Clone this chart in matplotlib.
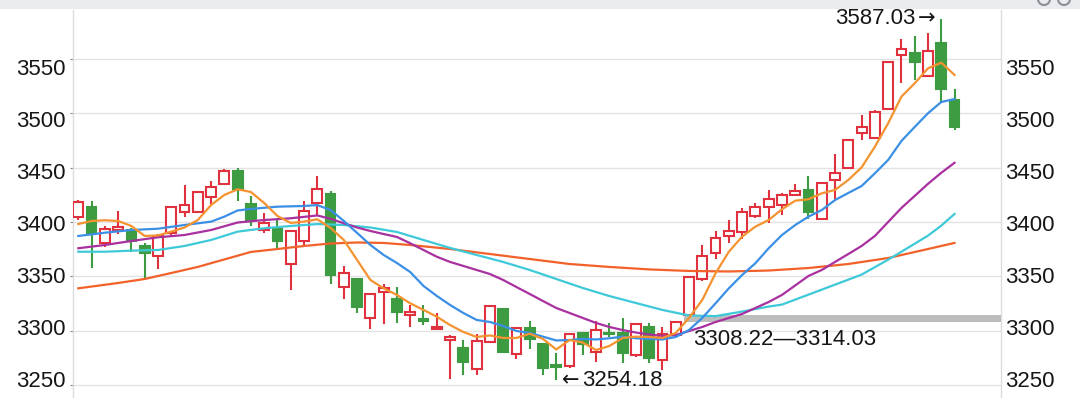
import matplotlib
matplotlib.use('Agg')
import matplotlib.pyplot as plt
import matplotlib.transforms as mtransforms
from matplotlib.patches import Rectangle, Circle

plt.rcParams['font.family'] = ['Liberation Sans', 'DejaVu Sans']

# daily candles (index 0..66)
opens = [3404.4, 3414.2, 3380.5, 3392.7, 3392.7, 3378.0, 3368.8, 3390.2, 3409.0, 3409.0,
         3422.8, 3435.0, 3447.3, 3416.7, 3392.7, 3393.4, 3361.4, 3382.6, 3417.3, 3425.6,
         3340.5, 3347.6, 3311.4, 3335.9, 3328.9, 3314.5, 3310.5, 3301.3, 3291.4, 3283.8,
         3264.4, 3289.9, 3320.0, 3278.3, 3302.8, 3287.8, 3268.0, 3267.5, 3297.6, 3280.7,
         3298.0, 3297.6, 3277.6, 3303.2, 3273.0, 3296.0, 3314.03, 3347.9, 3371.3, 3387.2,
         3391.2, 3405.9, 3414.2, 3415.7, 3425.0, 3429.6, 3402.9, 3438.7, 3449.5, 3481.7,
         3477.1, 3503.8, 3553.9, 3556.0, 3534.5, 3564.5, 3512.4]
closes = [3418.8, 3389.7, 3393.6, 3395.8, 3382.9, 3371.3, 3387.2, 3413.5, 3415.7, 3427.4,
          3432.6, 3447.3, 3430.1, 3401.9, 3398.8, 3382.9, 3391.8, 3410.2, 3430.1, 3351.3,
          3353.4, 3322.1, 3333.8, 3339.0, 3316.9, 3317.5, 3309.3, 3303.7, 3294.5, 3271.5,
          3290.5, 3322.7, 3280.7, 3302.8, 3292.1, 3265.4, 3266.8, 3296.7, 3287.8, 3300.6,
          3297.0, 3279.8, 3306.2, 3274.6, 3296.7, 3307.7, 3349.2, 3368.8, 3385.6, 3392.0,
          3409.6, 3413.5, 3421.3, 3425.0, 3428.6, 3409.6, 3436.3, 3444.8, 3475.6, 3487.8,
          3501.7, 3547.1, 3559.4, 3547.7, 3557.8, 3522.2, 3487.8]
highs = [3420.0, 3419.4, 3396.7, 3410.2, 3394.3, 3380.5, 3389.0, 3414.8, 3434.2, 3429.0,
         3438.0, 3448.5, 3449.5, 3424.0, 3408.6, 3401.9, 3392.5, 3419.4, 3442.4, 3429.0,
         3359.8, 3348.2, 3334.3, 3343.0, 3340.5, 3323.7, 3323.7, 3316.0, 3296.0, 3291.4,
         3297.0, 3323.2, 3320.5, 3303.3, 3308.9, 3288.3, 3279.7, 3297.2, 3299.0, 3308.9,
         3306.8, 3311.4, 3307.4, 3306.8, 3303.7, 3308.22, 3349.7, 3378.9, 3392.0, 3401.9,
         3412.7, 3417.3, 3429.6, 3426.5, 3434.8, 3442.4, 3437.0, 3462.9, 3476.0, 3498.6,
         3503.2, 3547.5, 3568.2, 3571.4, 3574.4, 3587.03, 3522.2]
lows = [3402.0, 3357.4, 3376.8, 3389.0, 3372.7, 3348.2, 3356.5, 3388.0, 3405.0, 3408.0,
        3417.0, 3434.0, 3419.7, 3396.7, 3390.2, 3374.3, 3337.5, 3378.0, 3406.5, 3342.7,
        3328.8, 3316.0, 3301.3, 3306.2, 3306.8, 3303.7, 3305.2, 3301.0, 3255.2, 3259.2,
        3259.2, 3288.4, 3280.0, 3274.0, 3282.8, 3259.2, 3254.18, 3266.0, 3277.6, 3271.5,
        3294.5, 3270.5, 3275.4, 3270.5, 3263.8, 3295.0, 3314.03, 3346.0, 3365.7, 3380.5,
        3384.4, 3403.5, 3399.4, 3406.5, 3424.0, 3402.6, 3402.0, 3421.5, 3449.0, 3475.6,
        3477.0, 3503.3, 3527.7, 3530.8, 3534.0, 3510.9, 3484.8]

# moving average lines
ma5 = [3398.2, 3401.0, 3401.7, 3401.0, 3396.4, 3387.2, 3387.7, 3391.2, 3395.0, 3401.9,
       3415.7, 3425.0, 3430.2, 3427.7, 3417.6, 3405.6, 3399.2, 3400.4, 3402.6, 3394.6,
       3383.5, 3365.1, 3346.7, 3339.0, 3332.9, 3325.2, 3319.1, 3312.9, 3305.2, 3298.8,
       3294.2, 3295.6, 3293.3, 3293.3, 3297.2, 3292.4, 3282.7, 3291.4, 3289.1, 3282.2,
       3285.9, 3293.3, 3294.5, 3294.2, 3293.3, 3297.9, 3311.7, 3328.3, 3352.9, 3372.7,
       3386.6, 3395.8, 3401.9, 3411.8, 3419.7, 3421.0, 3426.5, 3429.6, 3438.8, 3450.3,
       3469.4, 3491.0, 3515.5, 3527.8, 3541.6, 3546.8, 3535.5]

ma10_idx = [0, 2, 4, 6, 8, 10, 11, 12, 13, 15, 17, 18, 19, 20, 21, 22, 23, 24, 25, 26,
            27, 28, 29, 30, 31, 32, 33, 34, 35, 36, 37, 38, 39, 40, 41, 42, 43, 44, 45, 46,
            47, 48, 49, 50, 51, 52, 53, 54, 55, 56, 57, 58, 59, 60, 61, 62, 63, 64, 65, 66]
ma10 = [3387.2, 3390.2, 3392.7, 3393.9, 3397.3, 3400.4, 3405.0, 3410.7, 3412.1, 3414.2,
        3414.8, 3415.7, 3411.1, 3401.0, 3390.0, 3378.9, 3369.7, 3362.3, 3354.0, 3341.2,
        3332.0, 3323.7, 3316.3, 3309.9, 3308.0, 3304.3, 3299.7, 3297.9, 3294.5, 3291.0,
        3291.4, 3292.4, 3291.9, 3293.0, 3294.5, 3293.0, 3292.5, 3291.9, 3294.2, 3300.6,
        3311.7, 3325.2, 3339.0, 3351.3, 3362.1, 3375.9, 3388.1, 3397.3, 3405.0, 3411.1,
        3420.3, 3426.8, 3433.2, 3444.9, 3457.2, 3474.7, 3487.6, 3500.2, 3510.6, 3513.3]

ma20_idx = [0, 2, 4, 6, 8, 10, 12, 14, 16, 18, 19, 20, 21, 22, 23, 24, 25, 26, 27, 28,
            29, 30, 31, 32, 33, 34, 35, 36, 37, 38, 39, 40, 41, 42, 43, 44, 45, 46, 47, 48,
            50, 52, 53, 55, 56, 57, 58, 59, 60, 61, 62, 63, 64, 65, 66]
ma20 = [3375.9, 3378.9, 3382.6, 3386.0, 3388.1, 3392.7, 3399.6, 3401.9, 3403.5, 3406.1,
        3403.0, 3398.9, 3395.0, 3391.8, 3389.0, 3386.3, 3380.5, 3374.3, 3368.1, 3363.3,
        3359.6, 3355.9, 3352.2, 3346.7, 3340.2, 3333.8, 3327.3, 3320.9, 3316.3, 3311.7,
        3307.1, 3303.4, 3300.6, 3298.3, 3296.5, 3295.1, 3296.0, 3299.7, 3303.4, 3308.0,
        3315.4, 3326.4, 3332.9, 3350.4, 3355.9, 3363.3, 3370.6, 3378.0, 3387.2, 3400.1,
        3413.0, 3424.1, 3435.2, 3445.4, 3454.6]

ma30_idx = [0, 2, 4, 6, 8, 10, 12, 14, 16, 18, 20, 22, 24, 26, 28, 30, 32, 34, 36, 38,
            40, 42, 44, 46, 48, 50, 52, 53, 55, 57, 59, 61, 62, 63, 64, 65, 66]
ma30 = [3372.7, 3372.7, 3373.7, 3374.3, 3378.0, 3383.5, 3391.2, 3394.3, 3396.4, 3398.2,
        3397.3, 3395.0, 3390.9, 3383.5, 3376.2, 3369.7, 3363.3, 3355.9, 3347.6, 3339.3,
        3331.9, 3325.5, 3319.1, 3314.0, 3313.4, 3317.6, 3322.2, 3324.0, 3333.2, 3342.4,
        3351.6, 3365.4, 3372.7, 3380.1, 3387.5, 3396.7, 3407.5]

ma60_idx = [0, 3, 5, 7, 9, 11, 13, 15, 17, 19, 21, 23, 25, 28, 31, 34, 37, 40, 43, 46,
            49, 52, 55, 58, 61, 64, 66]
ma60 = [3339.0, 3343.9, 3347.6, 3353.1, 3358.7, 3365.6, 3372.5, 3375.2, 3378.0, 3380.3,
        3381.2, 3380.8, 3378.9, 3375.2, 3370.6, 3366.0, 3361.4, 3358.7, 3356.4, 3355.0,
        3354.5, 3355.4, 3357.7, 3361.4, 3366.9, 3375.2, 3380.8]

gap_low, gap_high = 3308.22, 3314.03
gap_start = 46
hi_idx, lo_idx = 65, 36
yticks = [3250, 3300, 3350, 3400, 3450, 3500, 3550]
# labels are spaced a little tighter than the grid lines
label_shift_px = [-6.2, -3.8, -1.4, 1.0, 3.4, 5.8, 8.2]

RED = '#e1313f'
GREEN = '#3d9c42'
INK = '#161616'
W, H = 1080, 398
fs = 16

fig = plt.figure(figsize=(W / 100, H / 100), dpi=100)
ax = fig.add_axes([73 / W, 0, 928 / W, 388 / H])
ax.set_xlim(-0.4, 69.5)
ax.set_ylim(3238.0, 3595.3)

# candles
for i, (o, h, l, c) in enumerate(zip(opens, highs, lows, closes)):
    up = c >= o
    col = RED if up else GREEN
    lo_b, hi_b = min(o, c), max(o, c)
    ax.vlines(i, l, h, color=col, lw=1.5, zorder=2)
    hgt = max(hi_b - lo_b, 0.6)
    ax.add_patch(Rectangle((i - 0.37, lo_b), 0.74, hgt,
                           facecolor='white' if up else col, edgecolor=col,
                           lw=1.5, zorder=3))

# gap band
ax.fill_between([gap_start - 0.35, 69.5], gap_low, gap_high, color='#bdbdbd',
                lw=0, zorder=4)

# moving averages
ax.plot(ma60_idx, ma60, color='#f2612a', lw=1.6, zorder=5)
ax.plot(ma30_idx, ma30, color='#3ec9d9', lw=1.6, zorder=5)
ax.plot(ma20_idx, ma20, color='#a8309f', lw=1.6, zorder=5)
ax.plot(ma10_idx, ma10, color='#3b8fe5', lw=1.6, zorder=5)
ax.plot(range(len(ma5)), ma5, color='#f4932f', lw=1.6, zorder=5)

# annotations: high, low, gap
hx, hy = hi_idx - 0.45, highs[hi_idx] + 0.8
ax.annotate('\u2192', (hx, hy), ha='right', va='center', fontsize=fs - 1,
            family='DejaVu Sans', color=INK, zorder=6)
ax.annotate(f'{highs[hi_idx]:.2f}', (hx, hy), xytext=(-14, 0),
            textcoords='offset points', ha='right', va='center', fontsize=fs,
            color=INK, zorder=6)
lx, ly = lo_idx + 0.45, lows[lo_idx] - 0.3
ax.annotate('\u2190', (lx, ly), ha='left', va='center', fontsize=fs - 1,
            family='DejaVu Sans', color=INK, zorder=6)
ax.annotate(f'{lows[lo_idx]:.2f}', (lx, ly), xytext=(14, 0),
            textcoords='offset points', ha='left', va='center', fontsize=fs,
            color=INK, zorder=6)
ax.text(gap_start + 0.3, 3291.5, f'{gap_low:.2f}\u2014{gap_high:.2f}', ha='left',
        va='center', fontsize=fs, color=INK, zorder=6)

# axes styling
ax.set_xticks([])
ax.set_yticks(yticks)
ax.grid(axis='y', color='#e3e3e3', lw=1)
ax.set_axisbelow(True)
for s in ['top', 'bottom']:
    ax.spines[s].set_visible(False)
for s in ['left', 'right']:
    ax.spines[s].set_color('#dcdcdc')
    ax.spines[s].set_linewidth(1)
ax.tick_params(axis='y', left=True, right=False, labelleft=True, labelright=True,
               length=2, color='#888888', labelsize=fs, labelcolor=INK, pad=3.6)
for t, dy in zip(ax.yaxis.get_major_ticks(), label_shift_px):
    off1 = mtransforms.ScaledTranslation(0, -dy / 100, fig.dpi_scale_trans)
    off2 = mtransforms.ScaledTranslation(-4 / 100, -dy / 100, fig.dpi_scale_trans)
    t.label1.set_transform(t.label1.get_transform() + off1)
    t.label2.set_transform(t.label2.get_transform() + off2)

# browser strip at top with its icons
fig.patches.append(Rectangle((0, 1 - 9 / H), 1, 9 / H, transform=fig.transFigure,
                             facecolor='#e9ebee', edgecolor='none', zorder=0))
for cx in (1044, 1064):
    fig.patches.append(Circle((cx, H + 1), 6, transform=None, facecolor='none',
                              edgecolor='#8a9096', lw=1.5, zorder=1))

fig.savefig('out.png', dpi=100)
